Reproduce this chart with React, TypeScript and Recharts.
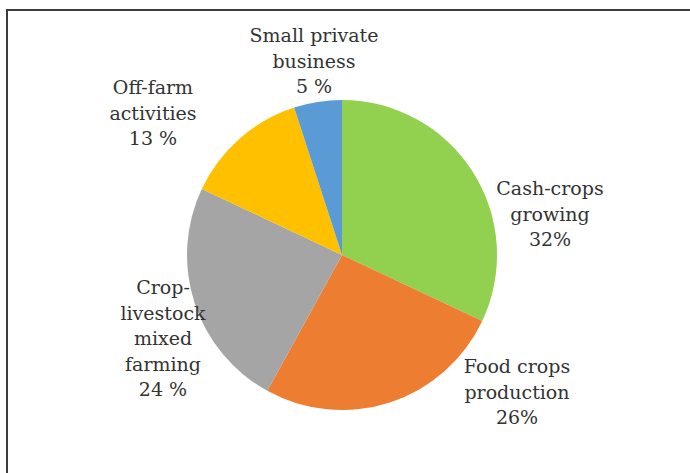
import React from "react";
import { PieChart, Pie, Cell } from "recharts";

const categories = [
  "Cash-crops\ngrowing",
  "Food crops\nproduction",
  "Crop-\nlivestock\nmixed\nfarming",
  "Off-farm\nactivities",
  "Small private\nbusiness",
];
const shares = [32, 26, 24, 13, 5];
const shareLabels = ["32%", "26%", "24 %", "13 %", "5 %"];
const colors = ["#92D050", "#ED7D31", "#A5A5A5", "#FFC000", "#5B9BD5"];

// label anchor offsets (first line centre) relative to pie centre — layout only
const labelOffsets = [
  [208, -67],
  [175, 111],
  [-179, 32],
  [-189, -168],
  [-28, -220],
];

const data = categories.map((name, i) => ({ name, value: shares[i], pct: shareLabels[i] }));

const LINE = 25.5;

const renderLabel = (props: any) => {
  const { cx, cy, index } = props;
  const [dx, dy] = labelOffsets[index];
  const lines = [...categories[index].split("\n"), shareLabels[index]];
  const x = cx + dx;
  const y0 = cy + dy + 7;
  return (
    <text
      key={`lbl-${index}`}
      x={x}
      y={y0}
      textAnchor="middle"
      fill="#333333"
      fontFamily="'DejaVu Serif', serif"
      fontSize={19}
    >
      {lines.map((l, i) => (
        <tspan key={i} x={x} y={y0 + i * LINE}>
          {l}
        </tspan>
      ))}
    </text>
  );
};

export default function App() {
  return (
    <div
      style={{
        position: "absolute",
        left: 0,
        top: 0,
        width: 690,
        height: 473,
        overflow: "hidden",
        background: "#ffffff",
      }}
    >
      <div
        style={{
          position: "absolute",
          left: 6,
          top: 9,
          width: 720,
          height: 520,
          border: "2px solid #3c3c3c",
          boxSizing: "border-box",
        }}
      />
      <div style={{ position: "absolute", left: 0, top: 0 }}>
        <PieChart width={690} height={473} margin={{ top: 0, right: 0, bottom: 0, left: 0 }}>
          <Pie
            data={data}
            dataKey="value"
            nameKey="name"
            cx={342}
            cy={255}
            outerRadius={155}
            startAngle={90}
            endAngle={-270}
            stroke="none"
            label={renderLabel}
            labelLine={false}
            isAnimationActive={false}
          >
            {data.map((d, i) => (
              <Cell key={i} fill={colors[i]} />
            ))}
          </Pie>
        </PieChart>
      </div>
    </div>
  );
}
